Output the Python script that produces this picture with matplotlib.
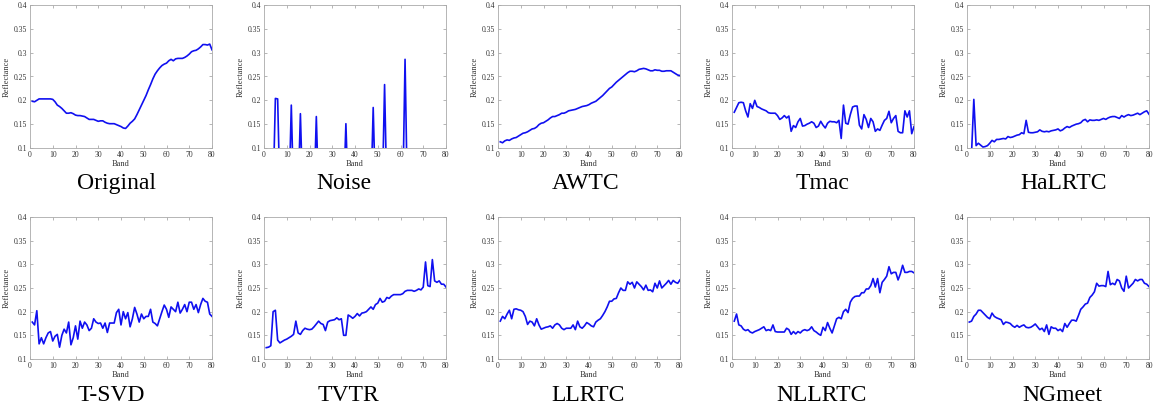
import numpy as np
import matplotlib
matplotlib.use("Agg")
import matplotlib.pyplot as plt

bands = np.arange(1, 81)

original = [0.198, 0.197, 0.200, 0.203, 0.203, 0.203, 0.203, 0.203, 0.203, 0.202,
            0.197, 0.190, 0.187, 0.183, 0.178, 0.173, 0.173, 0.174, 0.172, 0.169,
            0.168, 0.168, 0.167, 0.166, 0.163, 0.160, 0.160, 0.160, 0.158, 0.156,
            0.157, 0.157, 0.154, 0.152, 0.151, 0.151, 0.151, 0.149, 0.147, 0.145,
            0.142, 0.141, 0.146, 0.152, 0.156, 0.161, 0.170, 0.180, 0.190, 0.200,
            0.210, 0.222, 0.233, 0.245, 0.255, 0.262, 0.268, 0.273, 0.276, 0.278,
            0.283, 0.286, 0.283, 0.287, 0.288, 0.288, 0.288, 0.290, 0.293, 0.297,
            0.302, 0.304, 0.305, 0.308, 0.312, 0.317, 0.317, 0.316, 0.318, 0.306]

noise = [0, 0, 0, 0, 0.204, 0.203, 0, 0, 0, 0,
         0, 0.190, 0, 0, 0, 0.172, 0, 0, 0, 0,
         0, 0, 0.166, 0, 0, 0, 0, 0, 0, 0,
         0, 0, 0, 0, 0, 0.151, 0, 0, 0, 0,
         0, 0, 0, 0, 0, 0, 0, 0.185, 0, 0,
         0, 0, 0.233, 0, 0, 0, 0, 0, 0, 0,
         0, 0.286, 0, 0, 0, 0, 0, 0, 0, 0,
         0, 0, 0, 0, 0, 0, 0, 0, 0, 0]

awtc = [0.113, 0.111, 0.115, 0.117, 0.116, 0.119, 0.121, 0.122, 0.125, 0.128,
        0.131, 0.132, 0.134, 0.137, 0.140, 0.141, 0.144, 0.149, 0.152, 0.153,
        0.156, 0.159, 0.163, 0.166, 0.166, 0.168, 0.170, 0.173, 0.173, 0.175,
        0.178, 0.179, 0.180, 0.181, 0.183, 0.185, 0.187, 0.188, 0.189, 0.191,
        0.194, 0.196, 0.198, 0.202, 0.206, 0.210, 0.215, 0.220, 0.225, 0.228,
        0.233, 0.238, 0.242, 0.246, 0.250, 0.254, 0.258, 0.261, 0.261, 0.260,
        0.262, 0.265, 0.266, 0.267, 0.266, 0.264, 0.262, 0.262, 0.264, 0.263,
        0.263, 0.261, 0.261, 0.262, 0.262, 0.262, 0.259, 0.256, 0.253, 0.252]

tmac = [0.175, 0.185, 0.195, 0.196, 0.195, 0.178, 0.165, 0.193, 0.183, 0.200,
        0.187, 0.185, 0.182, 0.180, 0.178, 0.174, 0.173, 0.173, 0.173, 0.168,
        0.160, 0.163, 0.168, 0.163, 0.167, 0.135, 0.147, 0.143, 0.155, 0.162,
        0.146, 0.147, 0.150, 0.152, 0.155, 0.152, 0.143, 0.146, 0.156, 0.148,
        0.142, 0.152, 0.156, 0.155, 0.155, 0.153, 0.158, 0.120, 0.190, 0.152,
        0.150, 0.170, 0.186, 0.188, 0.188, 0.148, 0.140, 0.170, 0.160, 0.143,
        0.162, 0.155, 0.135, 0.140, 0.137, 0.148, 0.158, 0.162, 0.177, 0.153,
        0.162, 0.168, 0.135, 0.132, 0.132, 0.178, 0.165, 0.178, 0.130, 0.145]

halrtc = [0.080, 0.090, 0.202, 0.105, 0.110, 0.106, 0.102, 0.103, 0.105, 0.110,
          0.116, 0.113, 0.118, 0.118, 0.119, 0.120, 0.119, 0.124, 0.122, 0.123,
          0.125, 0.127, 0.128, 0.132, 0.130, 0.158, 0.133, 0.132, 0.132, 0.133,
          0.134, 0.138, 0.135, 0.134, 0.135, 0.134, 0.136, 0.137, 0.138, 0.140,
          0.136, 0.138, 0.142, 0.145, 0.143, 0.146, 0.148, 0.150, 0.151, 0.153,
          0.158, 0.160, 0.155, 0.159, 0.158, 0.158, 0.159, 0.158, 0.160, 0.162,
          0.160, 0.163, 0.165, 0.166, 0.166, 0.164, 0.162, 0.168, 0.165, 0.168,
          0.170, 0.168, 0.169, 0.171, 0.173, 0.170, 0.173, 0.176, 0.178, 0.171]

tsvd = [0.178, 0.172, 0.202, 0.132, 0.145, 0.132, 0.145, 0.155, 0.158, 0.138,
        0.148, 0.152, 0.125, 0.150, 0.163, 0.155, 0.178, 0.130, 0.145, 0.170,
        0.142, 0.180, 0.165, 0.178, 0.172, 0.160, 0.165, 0.185, 0.178, 0.175,
        0.176, 0.165, 0.176, 0.156, 0.176, 0.176, 0.176, 0.198, 0.205, 0.172,
        0.200, 0.185, 0.198, 0.168, 0.185, 0.209, 0.195, 0.178, 0.195, 0.185,
        0.190, 0.190, 0.205, 0.178, 0.175, 0.170, 0.185, 0.200, 0.214, 0.205,
        0.188, 0.210, 0.205, 0.200, 0.220, 0.197, 0.205, 0.215, 0.200, 0.220,
        0.220, 0.205, 0.215, 0.198, 0.215, 0.228, 0.222, 0.220, 0.195, 0.190]

tvtr = [0.124, 0.125, 0.128, 0.200, 0.203, 0.140, 0.134, 0.137, 0.140, 0.142,
        0.145, 0.148, 0.152, 0.180, 0.155, 0.152, 0.160, 0.165, 0.163, 0.162,
        0.163, 0.168, 0.174, 0.180, 0.175, 0.173, 0.160, 0.178, 0.181, 0.182,
        0.183, 0.187, 0.183, 0.185, 0.150, 0.150, 0.193, 0.190, 0.186, 0.190,
        0.196, 0.191, 0.197, 0.198, 0.200, 0.205, 0.210, 0.205, 0.215, 0.218,
        0.228, 0.220, 0.222, 0.230, 0.228, 0.233, 0.236, 0.236, 0.236, 0.236,
        0.238, 0.243, 0.245, 0.245, 0.245, 0.243, 0.245, 0.248, 0.246, 0.252,
        0.305, 0.255, 0.253, 0.310, 0.265, 0.262, 0.265, 0.258, 0.258, 0.252]

llrtc = [0.180, 0.190, 0.185, 0.195, 0.203, 0.185, 0.205, 0.206, 0.204, 0.203,
         0.200, 0.190, 0.173, 0.180, 0.178, 0.170, 0.185, 0.172, 0.163, 0.165,
         0.167, 0.168, 0.170, 0.165, 0.172, 0.175, 0.172, 0.165, 0.162, 0.165,
         0.165, 0.165, 0.172, 0.162, 0.180, 0.168, 0.165, 0.170, 0.177, 0.174,
         0.170, 0.168, 0.178, 0.182, 0.185, 0.192, 0.200, 0.210, 0.222, 0.222,
         0.227, 0.228, 0.240, 0.250, 0.245, 0.245, 0.263, 0.258, 0.262, 0.250,
         0.263, 0.258, 0.253, 0.246, 0.256, 0.245, 0.246, 0.242, 0.260, 0.250,
         0.265, 0.250, 0.255, 0.260, 0.266, 0.258, 0.266, 0.262, 0.260, 0.267]

nllrtc = [0.180, 0.195, 0.172, 0.170, 0.163, 0.160, 0.162, 0.157, 0.155, 0.158,
          0.160, 0.162, 0.165, 0.168, 0.160, 0.162, 0.160, 0.172, 0.158, 0.157,
          0.157, 0.157, 0.157, 0.165, 0.162, 0.152, 0.158, 0.153, 0.158, 0.155,
          0.160, 0.162, 0.160, 0.162, 0.168, 0.160, 0.157, 0.153, 0.150, 0.167,
          0.160, 0.177, 0.165, 0.155, 0.170, 0.185, 0.188, 0.185, 0.200, 0.205,
          0.198, 0.220, 0.228, 0.232, 0.233, 0.233, 0.240, 0.240, 0.248, 0.248,
          0.255, 0.270, 0.252, 0.270, 0.240, 0.262, 0.268, 0.275, 0.295, 0.280,
          0.283, 0.283, 0.267, 0.280, 0.298, 0.283, 0.283, 0.285, 0.285, 0.282]

ngmeet = [0.178, 0.180, 0.190, 0.195, 0.203, 0.203, 0.198, 0.193, 0.188, 0.185,
          0.197, 0.190, 0.187, 0.185, 0.183, 0.173, 0.178, 0.177, 0.175, 0.170,
          0.167, 0.171, 0.167, 0.170, 0.172, 0.167, 0.166, 0.167, 0.170, 0.174,
          0.168, 0.162, 0.165, 0.158, 0.172, 0.152, 0.168, 0.165, 0.165, 0.160,
          0.163, 0.158, 0.175, 0.167, 0.175, 0.182, 0.182, 0.180, 0.192, 0.205,
          0.210, 0.216, 0.218, 0.230, 0.235, 0.242, 0.260, 0.254, 0.255, 0.255,
          0.253, 0.285, 0.257, 0.260, 0.257, 0.268, 0.265, 0.250, 0.243, 0.275,
          0.250, 0.255, 0.260, 0.268, 0.265, 0.268, 0.268, 0.260, 0.258, 0.253]

names = ["Original", "Noise", "AWTC", "Tmac", "HaLRTC",
         "T-SVD", "TVTR", "LLRTC", "NLLRTC", "NGmeet"]
series = [original, noise, awtc, tmac, halrtc,
          tsvd, tvtr, llrtc, nllrtc, ngmeet]

xticks = [0, 10, 20, 30, 40, 50, 60, 70, 80]
yticks = [0.1, 0.15, 0.2, 0.25, 0.3, 0.35, 0.4]
ytick_labels = ["0.1", "0.15", "0.2", "0.25", "0.3", "0.35", "0.4"]

W, H = 1154, 415
fig = plt.figure(figsize=(W / 100, H / 100), dpi=100)
plt.rcParams['font.family'] = ['Liberation Serif', 'DejaVu Serif']

# layout in pixels
lefts = [30, 264, 498, 732, 967]
rows = [(5, 148, 183), (217, 359, 395)]  # top, bottom, title centre
title_x = [116, 344, 586, 823, 1064, 111, 348, 588, 822, 1062]
aw = 182

for i, (name, vals) in enumerate(zip(names, series)):
    r, c = divmod(i, 5)
    top, bot, ty = rows[r]
    ax = fig.add_axes([lefts[c] / W, 1 - bot / H, aw / W, (bot - top) / H])
    ax.plot(bands, vals, color='#1010f0', lw=1.2)
    ax.set_xlim(0, 80)
    ax.set_ylim(0.1, 0.4)
    ax.set_xticks(xticks)
    ax.set_yticks(yticks)
    ax.set_yticklabels(ytick_labels)
    ax.tick_params(direction='in', length=2, width=0.5, labelsize=5.5,
                   colors='#999999', labelcolor='#333333', pad=2,
                   top=True, right=True)
    for sp in ax.spines.values():
        sp.set_color('#aaaaaa')
        sp.set_linewidth(0.6)
    ax.set_xlabel("Band", fontsize=6, color='#333333', labelpad=1)
    ax.set_ylabel("Reflectance", fontsize=6, color='#333333', labelpad=2)
    fig.text(title_x[i] / W, 1 - ty / H, name, fontsize=17,
             ha='center', va='center', color='black')

fig.savefig("out.png", dpi=100)
